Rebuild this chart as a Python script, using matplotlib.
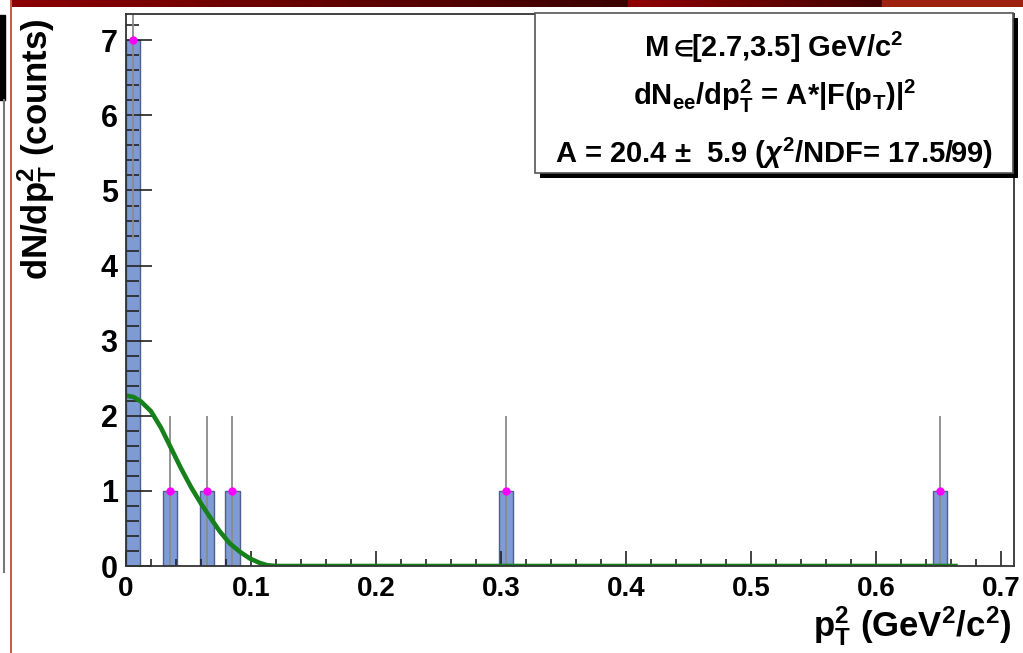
import numpy as np
import matplotlib
matplotlib.use("Agg")
import matplotlib.pyplot as plt
from matplotlib.patches import Rectangle

# histogram entries (bin centre, counts, stat error)
bin_x = [0.0055, 0.035, 0.065, 0.085, 0.304, 0.651]
counts = [7, 1, 1, 1, 1, 1]
errors = [2.65, 1, 1, 1, 1, 1]
bin_width = 0.0115

# fitted form factor curve
fit_x = [0.0, 0.006, 0.012, 0.02, 0.028, 0.036, 0.044, 0.052, 0.06, 0.068,
         0.075, 0.083, 0.091, 0.099, 0.107, 0.113, 0.12, 0.3, 0.5, 0.665]
fit_y = [2.27, 2.25, 2.19, 2.06, 1.84, 1.57, 1.30, 1.05, 0.83, 0.63,
         0.46, 0.30, 0.19, 0.10, 0.04, 0.01, 0.0, 0.0, 0.0, 0.0]

x_ticks = [0, 0.1, 0.2, 0.3, 0.4, 0.5, 0.6, 0.7]
x_ticklabels = ['0', '0.1', '0.2', '0.3', '0.4', '0.5', '0.6', '0.7']
y_ticks = [0, 1, 2, 3, 4, 5, 6, 7]

legend_lines = [
    r'M $\!\!\in\!\!$[2.7,3.5] GeV/c$^\mathrm{2}$',
    r'dN$_\mathrm{ee}$/dp$_\mathrm{T}^\mathrm{2}$ = A*|F(p$_\mathrm{T}$)|$^\mathrm{2}$',
    r'A = 20.4 $\pm$  5.9 ($\chi^\mathrm{2}$/NDF= 17.5/99)',
]

plt.rcParams['font.family'] = ['Liberation Sans', 'DejaVu Sans']
plt.rcParams['font.weight'] = 'bold'
plt.rcParams['mathtext.fontset'] = 'custom'
plt.rcParams['mathtext.rm'] = 'Liberation Sans:bold'
plt.rcParams['mathtext.bf'] = 'Liberation Sans:bold'
plt.rcParams['mathtext.sf'] = 'Liberation Sans:bold'
plt.rcParams['mathtext.it'] = 'Liberation Sans:italic:bold'
plt.rcParams['mathtext.fallback'] = 'stixsans'

W, H = 1023, 653
fig = plt.figure(figsize=(W / 100, H / 100), dpi=100)

# slide decorations around the plot
deco = fig.add_axes([0, 0, 1, 1], zorder=-5)
deco.set_xlim(0, W)
deco.set_ylim(H, 0)
deco.axis('off')
grad = np.zeros((1, W, 3))
for i in range(W):
    if i < 623:
        t = i / 623
        grad[0, i] = [0.55 - 0.32 * t, 0.0, 0.0]
    elif i < 880:
        t = (i - 623) / 257
        grad[0, i] = [0.56 - 0.30 * t, 0.0, 0.0]
    else:
        grad[0, i] = [0.62, 0.13, 0.06]
deco.imshow(grad, extent=[12, W, 7, 0], aspect='auto')
deco.plot([11, 11], [0, H], color='#b5402a', lw=1.2)
deco.add_patch(Rectangle((-2, 15), 7, 85, color='black'))
deco.plot([3.5, 3.5], [100, 572], color='#777777', lw=1.5)

ax = fig.add_axes([126 / W, 1 - 566 / H, (1014 - 126) / W, (566 - 14) / H])
ax.set_axisbelow(False)

ax.bar(bin_x, counts, width=bin_width, color='#7f9bd3', edgecolor='#4d6090',
       linewidth=1.0, zorder=2)
ax.errorbar(bin_x, counts, yerr=errors, fmt='none', ecolor='#8a8a8a',
            elinewidth=1.3, zorder=3)
ax.plot(bin_x, counts, 'o', color='#ff00ff', markersize=5, zorder=4)
ax.plot(fit_x, fit_y, color='#16801a', lw=3.3, zorder=5, solid_capstyle='butt')

ax.set_xlim(0, 0.71)
ax.set_ylim(0, 7.35)
ax.set_xticks(x_ticks)
ax.set_xticklabels(x_ticklabels)
ax.set_xticks(np.arange(0, 0.71, 0.02), minor=True)
ax.set_yticks(y_ticks)
ax.set_yticks(np.arange(0, 7.35, 0.2), minor=True)

ax.tick_params(axis='x', which='major', direction='in', length=11, width=1.2,
               labelsize=20, pad=7, color='#222222')
ax.tick_params(axis='x', which='minor', direction='in', length=5, width=1.2,
               color='#222222')
ax.tick_params(axis='y', which='major', direction='in', length=19, width=1.2,
               labelsize=22, pad=6, color='#222222')
ax.tick_params(axis='y', which='minor', direction='in', length=9.5, width=1.2,
               color='#222222')
for lab in ax.get_xticklabels() + ax.get_yticklabels():
    lab.set_fontweight('bold')
for sp in ax.spines.values():
    sp.set_color('#333333')
    sp.set_linewidth(1.3)
    sp.set_zorder(6)

fig.text(37 / W, 1 - 18 / H, r'dN/dp$_\mathrm{T}^\mathrm{2}$ (counts)',
         rotation=90, ha='center', va='top', fontsize=25, fontweight='bold')
fig.text(1012 / W, 1 - 626 / H, r'p$_\mathrm{T}^\mathrm{2}$ (GeV$^\mathrm{2}$/c$^\mathrm{2}$)',
         ha='right', va='center', fontsize=25, fontweight='bold')

# stats box with shadow
bx0, by0, bx1, by1 = 535, 13, 1013, 173
deco2 = fig.add_axes([0, 0, 1, 1], zorder=10)
deco2.set_xlim(0, W)
deco2.set_ylim(H, 0)
deco2.axis('off')
deco2.add_patch(Rectangle((bx0 + 5, by0 + 5), bx1 - bx0, by1 - by0,
                          facecolor='black', edgecolor='none'))
deco2.add_patch(Rectangle((bx0, by0), bx1 - bx0, by1 - by0,
                          facecolor='white', edgecolor='#555555', lw=1.2))
line_y = [47, 96, 153]
for txt, yy in zip(legend_lines, line_y):
    deco2.text((bx0 + bx1) / 2, yy, txt, ha='center', va='center',
               fontsize=21, fontweight='bold')

fig.savefig('out.png', dpi=100)
